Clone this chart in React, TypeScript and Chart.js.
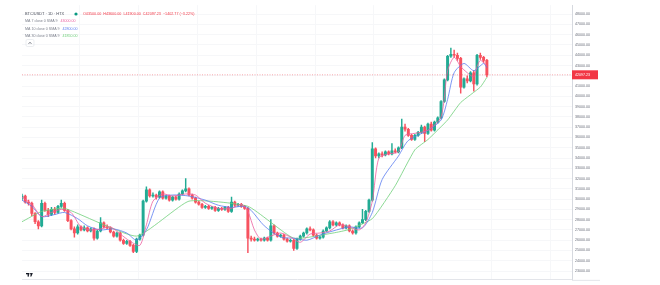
import React, { useEffect, useRef } from 'react';
import { Chart, registerables } from 'chart.js';

Chart.register(...registerables);

const symbolTitle = 'BTC/USDT · 1D · HTX';

const opens = [
  30100, 30300, 29700, 29600, 28600, 27800, 27400, 29600, 28900, 28500,
  29000, 28700, 29300, 29600, 28900, 27900, 27100, 26700, 27300, 27000,
  27200, 26900, 27100, 26200, 26900, 27700, 27300, 27200, 26800, 26400,
  26700, 26000, 25700, 25900, 25500, 24900, 26100, 26500, 29800, 30900,
  30300, 30400, 30200, 30700, 30100, 30300, 29900, 30200, 30000, 30500,
  30800, 31000, 30400, 30100, 29700, 29500, 29200, 29300, 29100, 29200,
  28900, 29100, 29000, 29200, 28800, 29700, 29400, 29500, 29300, 29100,
  26200, 26100, 26000, 26100, 26000, 26200, 26000, 27400, 26700, 26400,
  26500, 26100, 25900, 26000, 25200, 26100, 26400, 26700, 27100, 27000,
  26500, 26200, 26300, 26900, 27200, 27800, 27500, 27700, 27500, 27200,
  27400, 26900, 26700, 27300, 27700, 28000, 28800, 29900, 34900, 34200,
  34400, 34300, 34600, 34400, 34700, 34600, 35000, 37000, 36800, 36200,
  35800, 36200, 36500, 37000, 36400, 37300, 36700, 37500, 37900, 39500,
  41600, 43900, 44100, 44000, 43700, 40900, 41700, 41500, 42300, 41200,
  44000, 43800, 43500,
];
const highs = [
  30500, 30400, 29900, 29700, 28700, 27900, 29900, 29700, 29100, 29200,
  29200, 29400, 29900, 29700, 29000, 28000, 27300, 27500, 27400, 27400,
  27300, 27200, 27200, 27000, 28200, 27800, 27500, 27300, 26900, 26800,
  26800, 26100, 26000, 26000, 25600, 26200, 26600, 29900, 31200, 31000,
  30600, 30500, 30800, 30800, 30400, 30400, 30300, 30300, 30600, 30900,
  32000, 31100, 30500, 30200, 29800, 29600, 29400, 29400, 29300, 29300,
  29200, 29200, 29300, 29300, 30200, 29800, 29600, 29600, 29400, 29200,
  26400, 26300, 26200, 26200, 26300, 26300, 28000, 27500, 26800, 26600,
  26600, 26200, 26100, 26100, 26200, 26500, 26800, 27200, 27300, 27100,
  26600, 26400, 27000, 27300, 27900, 27900, 27800, 27800, 27600, 27500,
  27500, 27000, 27400, 27800, 29000, 28900, 30000, 35500, 35000, 34500,
  34600, 34700, 34700, 35400, 34900, 35100, 37800, 37300, 36900, 36300,
  36300, 36600, 37200, 37100, 37400, 37500, 37600, 38000, 39600, 41700,
  44000, 44700, 44500, 44200, 43800, 41800, 42000, 42400, 42500, 44100,
  44200, 43900, 43600,
];
const lows = [
  29900, 29600, 29400, 28400, 27600, 27100, 27300, 28800, 28300, 28400,
  28500, 28600, 29200, 28800, 27800, 27000, 26300, 26600, 26900, 26900,
  26800, 26800, 26000, 26100, 26800, 27200, 27100, 26700, 26300, 26300,
  25900, 25600, 25600, 25400, 24800, 24800, 26000, 26400, 29700, 30200,
  30200, 30000, 30100, 30000, 30000, 29800, 29800, 29900, 29900, 30400,
  30700, 30300, 30000, 29600, 29400, 29100, 29100, 29000, 29000, 28800,
  28800, 28900, 28900, 28700, 28700, 29300, 29300, 29200, 29000, 24800,
  25900, 25900, 25900, 25900, 25900, 25900, 25900, 26600, 26300, 26300,
  26000, 25800, 25800, 25000, 25100, 26000, 26300, 26600, 26900, 26400,
  26100, 26100, 26200, 26800, 27100, 27400, 27400, 27400, 27100, 27100,
  26800, 26600, 26600, 27200, 27600, 27900, 28700, 29800, 34000, 34000,
  34100, 34200, 34300, 34300, 34500, 34500, 34900, 36600, 36100, 35700,
  35700, 36100, 36400, 35600, 36300, 36600, 36600, 37400, 37800, 39400,
  41500, 43800, 43800, 43500, 40300, 40800, 41300, 41400, 40500, 41100,
  43600, 43300, 41900,
];
const closes = [
  30300, 29700, 29600, 28600, 27800, 27400, 29600, 28900, 28500, 29000,
  28700, 29300, 29600, 28900, 27900, 27100, 26700, 27300, 27000, 27200,
  26900, 27100, 26200, 26900, 27700, 27300, 27200, 26800, 26400, 26700,
  26000, 25700, 25900, 25500, 24900, 26100, 26500, 29800, 30900, 30300,
  30400, 30200, 30700, 30100, 30300, 29900, 30200, 30000, 30500, 30800,
  31000, 30400, 30100, 29700, 29500, 29200, 29300, 29100, 29200, 28900,
  29100, 29000, 29200, 28800, 29700, 29400, 29500, 29300, 29100, 26200,
  26100, 26000, 26100, 26000, 26200, 26000, 27400, 26700, 26400, 26500,
  26100, 25900, 26000, 25200, 26100, 26400, 26700, 27100, 27000, 26500,
  26200, 26300, 26900, 27200, 27800, 27500, 27700, 27500, 27200, 27400,
  26900, 26700, 27300, 27700, 28000, 28800, 29900, 34900, 34200, 34400,
  34300, 34600, 34400, 34700, 34600, 35000, 37000, 36800, 36200, 35800,
  36200, 36500, 37000, 36400, 37300, 36700, 37500, 37900, 39500, 41600,
  43900, 44100, 44000, 43700, 40900, 41700, 41500, 42300, 41200, 44000,
  43800, 43500, 42097.23,
];

const emptyBarsRight = 26;

const yMin = 22144;
const yMax = 48875;
const yTickValues = [
  23000, 24000, 25000, 26000, 27000, 28000, 29000, 30000, 31000, 32000,
  33000, 34000, 35000, 36000, 37000, 38000, 39000, 40000, 41000, 42000,
  43000, 44000, 45000, 46000, 47000, 48000,
];

const maFastName = 'MA 7 close 0 SMA 9';
const maFastIdx = [0, 3, 6, 9, 12, 15, 18, 21, 24, 27, 30, 33, 36, 38, 40, 43, 46, 50, 53, 56, 60, 64, 67, 69, 71, 73, 76, 79, 82, 85, 88, 91, 94, 97, 100, 103, 105, 107, 109, 112, 115, 117, 120, 124, 128, 130, 132, 134, 136, 138, 139, 140, 142];
const maFastVal = [30200, 29500, 28300, 28700, 29000, 28700, 27300, 27000, 27100, 27300, 26600, 25900, 25500, 27500, 29800, 30500, 30300, 30500, 30400, 29600, 29100, 29100, 29500, 28800, 27000, 26100, 26400, 26700, 26300, 25800, 26600, 26700, 26900, 27500, 27300, 27000, 27700, 29800, 34000, 34400, 34600, 36200, 36400, 36700, 38000, 42500, 43800, 42900, 42300, 41900, 42900, 43500, 43000];

const maMidName = 'MA 10 close 0 SMA 9';
const maMidIdx = [0, 3, 6, 10, 13, 17, 20, 24, 28, 32, 35, 38, 42, 46, 51, 56, 60, 64, 68, 70, 74, 79, 83, 87, 91, 95, 100, 104, 107, 110, 115, 118, 124, 128, 130, 132, 135, 138, 141, 142];
const maMidVal = [29900, 29300, 28300, 28500, 28700, 28100, 27400, 27000, 27100, 26700, 26000, 27000, 30100, 30400, 30300, 29900, 29400, 29200, 29300, 28900, 27400, 26300, 26200, 26000, 26500, 26900, 27300, 27200, 28700, 31900, 34200, 35700, 36700, 37700, 39700, 42300, 43200, 42500, 43200, 42800];

const maSlowName = 'MA 30 close 0 SMA 9';
const maSlowIdx = [0, 6, 13, 35, 51, 69, 83, 95, 100, 107, 114, 120, 124, 130, 134, 140, 142];
const maSlowVal = [27800, 28800, 29100, 26400, 29800, 29300, 26200, 26700, 27050, 28100, 31300, 34800, 35800, 37700, 39400, 40900, 41850];

const UP = '#22ab94';
const DOWN = '#f7525f';
const FAST_COLOR = '#ec5fa0';
const MID_COLOR = '#5b7cf0';
const SLOW_COLOR = '#6fcf7a';
const FONT = '"Liberation Sans", Arial, sans-serif';

function sparse(total: number, idx: number[], vals: number[]) {
  const arr: (number | null)[] = new Array(total).fill(null);
  idx.forEach((k, j) => { arr[k] = vals[j]; });
  return arr;
}

function fmt(v: number) {
  return v.toFixed(2);
}

export default function App() {
  const ref = useRef<HTMLCanvasElement | null>(null);

  useEffect(() => {
    if (!ref.current) return;
    const n = closes.length;
    const total = n + emptyBarsRight;
    const labels = Array.from({ length: total }, (_, i) => String(i));
    const bodies = labels.map((_, i) => (i < n ? [opens[i], closes[i]] : null));
    const wicks = labels.map((_, i) => (i < n ? [lows[i], highs[i]] : null));
    const colors = labels.map((_, i) => (i < n && closes[i] >= opens[i] ? UP : DOWN));
    const last = closes[n - 1];
    const priceLine = labels.map(() => last);

    const overlay = {
      id: 'overlay',
      afterDraw(chart: any) {
        const ctx = chart.ctx as CanvasRenderingContext2D;
        const area = chart.chartArea;
        const ys = chart.scales.y;
        ctx.save();
        // axis corner
        ctx.strokeStyle = '#e3e5ea';
        ctx.lineWidth = 1;
        ctx.beginPath();
        ctx.moveTo(area.right, area.bottom + 0.5);
        ctx.lineTo(area.right + 28, area.bottom + 0.5);
        ctx.stroke();
        // current price label
        const py = ys.getPixelForValue(last);
        ctx.fillStyle = '#f23645';
        ctx.fillRect(area.right, py - 4.5, 26, 9);
        ctx.fillStyle = '#ffffff';
        ctx.font = `3.6px ${FONT}`;
        ctx.textBaseline = 'middle';
        ctx.textAlign = 'left';
        ctx.fillText(fmt(last), area.right + 3, py);

        // header
        ctx.font = `3.9px ${FONT}`;
        ctx.fillStyle = '#4a4e5a';
        ctx.fillText(symbolTitle, 25, 14.3);
        ctx.beginPath();
        ctx.arc(76, 14, 1.6, 0, Math.PI * 2);
        ctx.fillStyle = '#089981';
        ctx.fill();
        const o = opens[n - 1], h = highs[n - 1], l = lows[n - 1];
        const chg = last - closes[n - 2];
        const pct = (chg / closes[n - 2]) * 100;
        const sign = chg < 0 ? '−' : '+';
        const ohlc = `O${fmt(o)}  H${fmt(h)}  L${fmt(l)}  C${fmt(last)}  ${sign}${fmt(Math.abs(chg))} (${sign}${Math.abs(pct).toFixed(2)}%)`;
        ctx.fillStyle = chg < 0 ? '#f23645' : '#089981';
        ctx.font = `3.7px ${FONT}`;
        ctx.fillText(ohlc, 83, 14.3);

        const rows: [string, number[], string, number][] = [
          [maFastName, maFastVal, FAST_COLOR, 21.3],
          [maMidName, maMidVal, MID_COLOR, 28.5],
          [maSlowName, maSlowVal, SLOW_COLOR, 35.7],
        ];
        rows.forEach(([name, vals, col, yy]) => {
          ctx.font = `3.6px ${FONT}`;
          ctx.fillStyle = '#7b7f8b';
          ctx.fillText(name, 25, yy);
          const w = ctx.measureText(name).width;
          ctx.fillStyle = col;
          ctx.fillText(fmt(vals[vals.length - 1]), 25 + w + 3, yy);
        });

        // collapse button
        ctx.strokeStyle = '#dfe2e8';
        ctx.lineWidth = 0.6;
        ctx.beginPath();
        ctx.roundRect(26, 39.5, 8, 7, 1.5);
        ctx.stroke();
        ctx.strokeStyle = '#3a3e4a';
        ctx.lineWidth = 0.7;
        ctx.beginPath();
        ctx.moveTo(28.6, 43.8);
        ctx.lineTo(30, 42.3);
        ctx.lineTo(31.4, 43.8);
        ctx.stroke();

        // TradingView logo
        ctx.fillStyle = '#131722';
        ctx.fillRect(26, 273, 3.2, 1.3);
        ctx.fillRect(27.6, 273, 1.3, 3.6);
        ctx.beginPath();
        ctx.arc(30.3, 273.7, 0.7, 0, Math.PI * 2);
        ctx.fill();
        ctx.beginPath();
        ctx.moveTo(31.2, 273);
        ctx.lineTo(32.8, 273);
        ctx.lineTo(31.4, 276.6);
        ctx.lineTo(30.2, 276.6);
        ctx.closePath();
        ctx.fill();
        ctx.restore();
      },
    };

    const chart = new Chart(ref.current, {
      type: 'bar',
      data: {
        labels,
        datasets: [
          {
            type: 'line',
            data: priceLine,
            borderColor: 'rgba(242,54,69,0.55)',
            borderWidth: 0.8,
            borderDash: [1, 1.5],
            pointRadius: 0,
            order: 0,
          } as any,
          {
            type: 'line',
            data: sparse(total, maFastIdx, maFastVal),
            borderColor: FAST_COLOR,
            borderWidth: 0.8,
            pointRadius: 0,
            spanGaps: true,
            tension: 0.25,
            order: 0,
          } as any,
          {
            type: 'line',
            data: sparse(total, maMidIdx, maMidVal),
            borderColor: MID_COLOR,
            borderWidth: 0.8,
            pointRadius: 0,
            spanGaps: true,
            tension: 0.25,
            order: 0,
          } as any,
          {
            type: 'line',
            data: sparse(total, maSlowIdx, maSlowVal),
            borderColor: SLOW_COLOR,
            borderWidth: 0.8,
            pointRadius: 0,
            spanGaps: true,
            tension: 0.15,
            order: 0,
          } as any,
          {
            type: 'bar',
            data: bodies as any,
            backgroundColor: colors,
            borderWidth: 0,
            barThickness: 2.3,
            minBarLength: 1,
            grouped: false,
            order: 1,
          } as any,
          {
            type: 'bar',
            data: wicks as any,
            backgroundColor: colors,
            borderWidth: 0,
            barThickness: 0.8,
            grouped: false,
            order: 2,
          } as any,
        ],
      },
      options: {
        animation: false,
        responsive: false,
        devicePixelRatio: 1,
        events: [],
        layout: { padding: { left: 22, top: 4, right: 58, bottom: 3 } },
        plugins: { legend: { display: false }, tooltip: { enabled: false } },
        scales: {
          x: {
            type: 'category',
            offset: false,
            ticks: { display: false },
            grid: {
              drawTicks: false,
              color: (c: any) => (c.index % 18 === 0 ? '#f6f7f9' : 'rgba(0,0,0,0)'),
              lineWidth: 1,
            },
            border: { display: true, color: '#e3e5ea' },
          },
          y: {
            position: 'right',
            min: yMin,
            max: yMax,
            afterBuildTicks: (s: any) => {
              s.ticks = yTickValues.map((v) => ({ value: v }));
            },
            afterFit: (s: any) => {
              s.width = 30;
            },
            ticks: {
              padding: 3,
              color: '#6a6e7a',
              font: { size: 3.6, family: FONT },
              callback: (v: any) => Number(v).toFixed(2),
            },
            grid: { drawTicks: false, color: '#f6f7f9' },
            border: { display: true, color: '#d6d9df' },
          },
        },
      },
      plugins: [overlay],
    } as any);
    return () => chart.destroy();
  }, []);

  return (
    <div style={{ position: 'absolute', left: 0, top: 0, width: 660, height: 285, background: '#ffffff' }}>
      <canvas ref={ref} width={660} height={285} style={{ display: 'block' }} />
    </div>
  );
}
